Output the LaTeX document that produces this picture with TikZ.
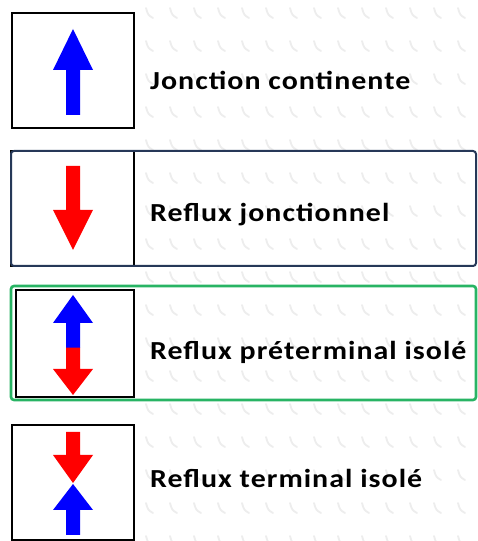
\documentclass[tikz,border=0pt]{standalone}
\usepackage{fontspec}
\setmainfont{Carlito}
\definecolor{arrowblue}{RGB}{0,0,255}
\definecolor{arrowred}{RGB}{255,0,0}
\definecolor{framenavy}{RGB}{38,56,88}
\definecolor{framegreen}{RGB}{40,180,100}
\newfontfamily\legendfont[FakeStretch=1.15,LetterSpace=4]{Carlito}
\begin{document}
\begin{tikzpicture}[x=1pt,y=1pt,
  iconbox/.style={draw=black,line width=2pt,fill=white,inner sep=0pt,
    minimum width=122pt,minimum height=115pt},
  rowbox/.style={line width=2pt,rounded corners=3pt,inner sep=0pt,
    minimum width=465pt,minimum height=115pt},
  legendtext/.style={anchor=base west,inner sep=0pt,
    font=\legendfont\bfseries\fontsize{26}{26}\selectfont},
  tick/.style={draw=black!7,line width=1.8pt,line cap=round}]
\useasboundingbox (0,0) rectangle (477,541);
\fill[white] (0,0) rectangle (477,541);

% faint paper texture
\foreach \r in {0,...,16} {
  \foreach \c in {0,...,13} {
    \pgfmathsetmacro{\px}{146+\c*24}
    \pgfmathsetmacro{\py}{533-\r*33}
    \draw[tick] (\px,\py) .. controls ({\px+2},{\py-7}) .. ({\px+7},{\py-10});
  }
}

% icon squares
\node[iconbox] (icon1) at (73,470.5) {};
\node[iconbox,minimum width=123pt] (icon2) at (72.5,332.5) {};
\node[iconbox] (icon4) at (73,58.5) {};

% row frames
\node[rowbox,draw=framenavy] (row2) at (243.5,332.5) {};
\node[rowbox,draw=framegreen,line width=2.6pt,minimum height=114pt] (row3) at (243.5,198) {};
\node[iconbox,minimum width=118pt,minimum height=107pt] (icon3) at (75,197.5) {};

% arrows
\fill[arrowblue] (66,426) -- (66,471) -- (53,471) -- (73,512) -- (93,471)
  -- (80,471) -- (80,426) -- cycle;
\fill[arrowred] (66,375) -- (80,375) -- (80,331) -- (93,331) -- (73,291)
  -- (53,331) -- (66,331) -- cycle;
\fill[arrowblue] (66,193) -- (66,218) -- (53,218) -- (73,246) -- (93,218)
  -- (80,218) -- (80,193) -- cycle;
\fill[arrowred] (66,193.3) -- (66,172) -- (53,172) -- (73,146) -- (93,172)
  -- (80,172) -- (80,193.3) -- cycle;
\fill[arrowred] (66,109) -- (80,109) -- (80,86) -- (93,86) -- (73,58)
  -- (53,86) -- (66,86) -- cycle;
\fill[arrowblue] (66,6) -- (66,31) -- (53,31) -- (73,57) -- (93,31)
  -- (80,31) -- (80,6) -- cycle;

% labels
\node[legendtext] (t1) at (150,451) {Jonction continente};
\node[legendtext] (t2) at (150,319) {Reflux jonctionnel};
\node[legendtext] (t3) at (150,181) {Reflux préterminal isolé};
\node[legendtext] (t4) at (150,53) {Reflux terminal isolé};
\end{tikzpicture}
\end{document}
